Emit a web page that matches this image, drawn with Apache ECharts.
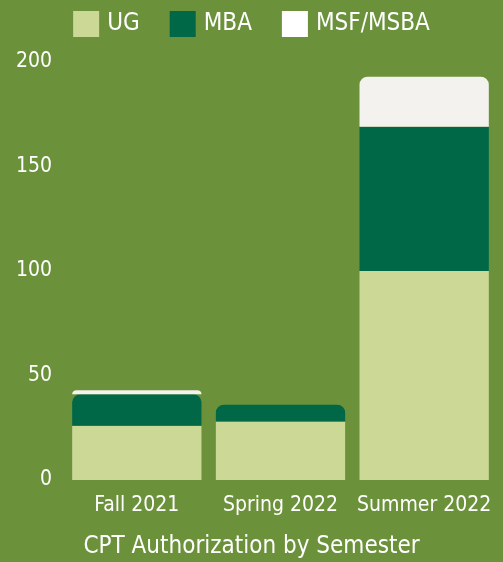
<!DOCTYPE html>
<html>
<head>
<meta charset="utf-8">
<script src="https://cdn.jsdelivr.net/npm/echarts@6/dist/echarts.min.js"></script>
<style>
  html, body { margin: 0; padding: 0; background: #6b923b; }
  #container { width: 503px; height: 562px; }
</style>
</head>
<body>
<div id="container"></div>
<script>
var semesters = ['Fall 2021', 'Spring 2022', 'Summer 2022'];
var ugValues = [26, 28, 100];
var mbaValues = [15, 8, 69];
var msfValues = [2, 0, 24];
var seriesNames = ['UG', 'MBA', 'MSF/MSBA'];
var seriesColors = ['#ccd896', '#006747', '#f3f2ee'];
var legendColors = ['#ccd896', '#006747', '#ffffff'];

var font = '"DejaVu Sans Condensed", "Liberation Sans Narrow", sans-serif';
var allValues = [ugValues, mbaValues, msfValues];

// round the top segment of each stack (and one just under a thin cap)
function buildData(s) {
    return allValues[s].map(function (v, i) {
        var above = 0;
        for (var k = s + 1; k < allValues.length; k++) above += allValues[k][i];
        var rounded = v > 0 && above < 5;
        return {
            value: v,
            itemStyle: { borderRadius: rounded ? [8, 8, 0, 0] : 0 }
        };
    });
}

var dom = document.getElementById('container');
var myChart = echarts.init(dom);

var option = {
    backgroundColor: '#6b923b',
    textStyle: { fontFamily: font },
    title: {
        text: 'CPT Authorization by Semester',
        left: 'center',
        top: 530,
        textStyle: { color: '#ffffff', fontSize: 24, fontWeight: 'normal', fontFamily: font }
    },
    legend: {
        top: 6,
        left: 'center',
        itemWidth: 26,
        itemHeight: 26,
        itemGap: 30,
        icon: 'rect',
        textStyle: { color: '#ffffff', fontSize: 24, fontFamily: font, padding: [0, 0, 0, 3] },
        data: seriesNames.map(function (n, i) {
            return { name: n, itemStyle: { color: legendColors[i] } };
        })
    },
    grid: { left: 65, right: 7, top: 62, bottom: 82 },
    xAxis: {
        type: 'category',
        data: semesters,
        axisLine: { show: false },
        axisTick: { show: false },
        axisLabel: { color: '#ffffff', fontSize: 21, margin: 15, interval: 0, fontFamily: font }
    },
    yAxis: {
        type: 'value',
        min: 0,
        max: 200,
        interval: 50,
        splitLine: { show: false },
        axisLine: { show: false },
        axisTick: { show: false },
        axisLabel: { color: '#ffffff', fontSize: 21, margin: 13, fontFamily: font }
    },
    series: seriesNames.map(function (n, s) {
        return {
            name: n,
            type: 'bar',
            stack: 'total',
            barCategoryGap: '10%',
            itemStyle: { color: seriesColors[s] },
            data: buildData(s)
        };
    })
};

myChart.setOption(option, true);
</script>
</body>
</html>
